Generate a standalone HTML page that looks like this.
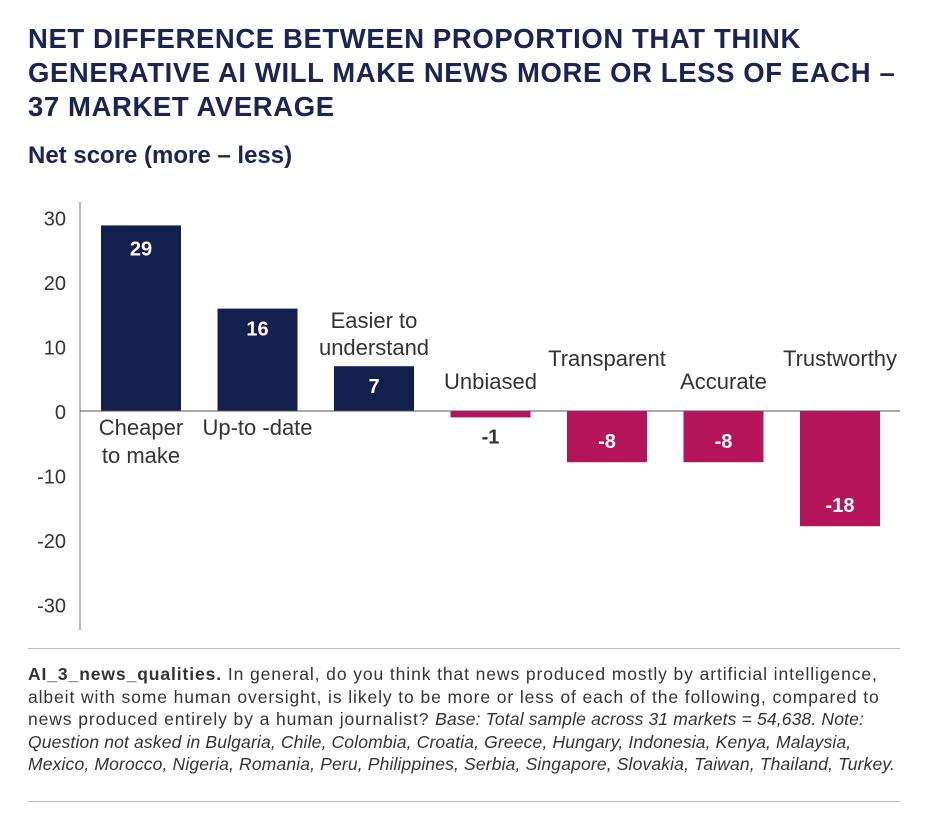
<!DOCTYPE html>
<html><head><meta charset="utf-8"><style>
body{margin:0;background:#fff;width:926px;height:814px;overflow:hidden;font-family:"Liberation Sans",sans-serif;}
h1{position:absolute;left:28px;top:22px;margin:0;font-size:27.5px;line-height:34px;color:#1b2452;font-weight:bold;letter-spacing:0.6px;white-space:nowrap}
h2{position:absolute;left:28px;top:142px;margin:0;font-size:24px;color:#1b2452;font-weight:bold}
.note{position:absolute;left:28px;top:663px;font-size:17.5px;line-height:22.5px;color:#333;white-space:nowrap;letter-spacing:0.9px}
.note i{letter-spacing:0.15px}
.sep{position:absolute;left:28px;width:872px;height:1px;background:#bbb}
</style></head><body>
<h1>NET DIFFERENCE BETWEEN PROPORTION THAT THINK<br>GENERATIVE AI WILL MAKE NEWS MORE OR LESS OF EACH –<br>37 MARKET AVERAGE</h1>
<h2>Net score (more – less)</h2>
<svg id="chart" style="position:absolute;left:0;top:0" width="926" height="650"></svg>
<div class="sep" style="top:648px"></div>
<div class="note"><b>AI_3_news_qualities.</b> In general, do you think that news produced mostly by artificial intelligence,<br>albeit with some human oversight, is likely to be more or less of each of the following, compared to<br>news produced entirely by a human journalist? <i>Base: Total sample across 31 markets = 54,638. Note:<br>Question not asked in Bulgaria, Chile, Colombia, Croatia, Greece, Hungary, Indonesia, Kenya, Malaysia,<br>Mexico, Morocco, Nigeria, Romania, Peru, Philippines, Serbia, Singapore, Slovakia, Taiwan, Thailand, Turkey.</i></div>
<div class="sep" style="top:801px"></div>
<script>
const categories=[["Cheaper","to make"],["Up-to -date"],["Easier to","understand"],["Unbiased"],["Transparent"],["Accurate"],["Trustworthy"]];
const values=[29,16,7,-1,-8,-8,-18];
const ticks=[30,20,10,0,-10,-20,-30];
const labelY=[[435,463],[435],[328,355],[389],[366],[389],[366]];
const svg=document.getElementById('chart');
const NS='http://www.w3.org/2000/svg';
const y0=411,k=6.4;
const y=v=>y0-v*k;
const x=i=>101+i*116.5;
const bw=80;
function mk(t,a){const e=document.createElementNS(NS,t);for(const n in a)e.setAttribute(n,a[n]);svg.appendChild(e);return e;}
ticks.forEach(t=>{const e=mk('text',{x:66,y:y0-t*6.45+8,'text-anchor':'end','font-size':20,fill:'#333'});e.textContent=t;

});
const ax=mk('line',{x1:80,y1:202,x2:80,y2:630,stroke:'#777','stroke-width':1});


values.forEach((v,i)=>{
 const top=v>=0?y(v):y0, h=Math.abs(v)*k;
 const r=mk('rect',{x:x(i),y:top,width:bw,height:h,fill:v>=0?'#13204e':'#b5145a'});
 
 
 const small=h<20;
 const ly=v>=0?top+(v>20?30:27):(small?y0+h+26:top+h-14);
 const t=mk('text',{x:x(i)+bw/2,y:ly,'text-anchor':'middle','font-size':20,'font-weight':'bold',fill:small?'#333':'#fff'});
 t.textContent=v;
 
 
 categories[i].forEach((s,j)=>{const c=mk('text',{x:x(i)+bw/2,y:labelY[i][j],'text-anchor':'middle','font-size':22,fill:'#333'});c.textContent=s;
 
 });
});
const zl=mk('line',{x1:80,y1:y0,x2:900,y2:y0,stroke:'#555','stroke-width':1});


</script>
</body></html>
